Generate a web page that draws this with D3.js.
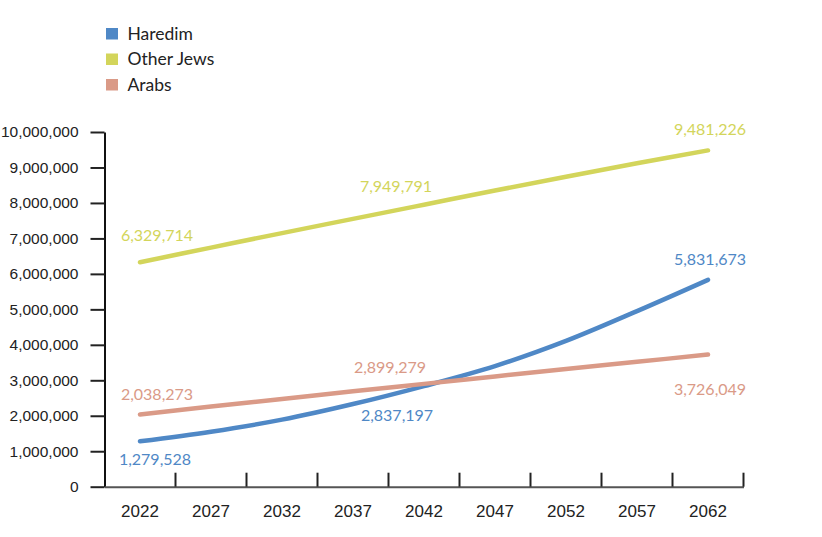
<!DOCTYPE html>
<html>
<head>
<meta charset="utf-8">
<script src="https://cdn.jsdelivr.net/npm/d3@7"></script>
<style>
  body { margin: 0; background: #fff; }
  svg { font-family: Lato, "Noto Sans", sans-serif; }
</style>
</head>
<body>
<div id="chart"></div>
<script>
// data
const years = [2022, 2027, 2032, 2037, 2042, 2047, 2052, 2057, 2062];
const haredim   = [1279528, 1550000, 1890000, 2330000, 2837197, 3400000, 4110000, 4950000, 5831673];
const otherJews = [6329714, 6740000, 7150000, 7550000, 7949791, 8350000, 8740000, 9120000, 9481226];
const arabs     = [2038273, 2260000, 2470000, 2690000, 2899279, 3110000, 3320000, 3520000, 3726049];
const seriesNames = ["Haredim", "Other Jews", "Arabs"];
const yTicks = [0, 1000000, 2000000, 3000000, 4000000, 5000000, 6000000, 7000000, 8000000, 9000000, 10000000];
const labelYears = [2022, 2042, 2062];

const colors = ["#4f88c6", "#d3d55b", "#da9a87"];
// where each value label sits relative to its point: [dx, dy] per series per labelled year
const labelOffsets = [
  [[15, 20], [-27, 31], [2, -19]],
  [[17, -25], [-28, -17], [2, -19]],
  [[17, -18], [-34, -15], [2, 36]]
];

const width = 822, height = 537;
const margin = { left: 104.5, right: 78.5, top: 132, bottom: 50.3 };

const svg = d3.select("#chart").append("svg")
  .attr("width", width)
  .attr("height", height);

const x = d3.scaleBand()
  .domain(years)
  .range([margin.left, width - margin.right]);

const y = d3.scaleLinear()
  .domain([0, 10000000])
  .range([height - margin.bottom, margin.top]);

const cx = d => x(d) + x.bandwidth() / 2;

// y axis
const yAxis = svg.append("g")
  .attr("transform", `translate(${margin.left},0)`)
  .call(d3.axisLeft(y).tickValues(yTicks).tickSize(14).tickSizeOuter(0).tickPadding(12)
    .tickFormat(d3.format(",")));
yAxis.select(".domain").attr("stroke", "#111").attr("stroke-width", 2);
yAxis.selectAll(".tick line").attr("stroke", "#222").attr("stroke-width", 2);
yAxis.selectAll(".tick text").attr("fill", "#222").style("font-size", "15.5px");

// x axis
const xAxis = svg.append("g")
  .attr("transform", `translate(0,${y(0)})`)
  .call(d3.axisBottom(x).tickSize(0).tickSizeOuter(0).tickPadding(18));
xAxis.select(".domain").attr("stroke", "#555").attr("stroke-width", 2);
xAxis.selectAll(".tick text").attr("fill", "#222").style("font-size", "17px");
xAxis.selectAll(".bound")
  .data(years)
  .enter().append("line")
  .attr("class", "bound")
  .attr("x1", d => x(d) + x.bandwidth())
  .attr("x2", d => x(d) + x.bandwidth())
  .attr("y1", 0)
  .attr("y2", -14)
  .attr("stroke", "#222")
  .attr("stroke-width", 2);

// lines
const allSeries = [haredim, otherJews, arabs];
const line = d3.line()
  .x((d, i) => cx(years[i]))
  .y(d => y(d))
  .curve(d3.curveCatmullRom.alpha(0.5));

svg.selectAll(".series")
  .data(allSeries)
  .enter().append("path")
  .attr("class", "series")
  .attr("d", d => line(d))
  .attr("fill", "none")
  .attr("stroke", (d, i) => colors[i])
  .attr("stroke-width", 4.5)
  .attr("stroke-linecap", "round");

// value labels
allSeries.forEach((vals, si) => {
  labelYears.forEach((yr, li) => {
    const idx = years.indexOf(yr);
    const off = labelOffsets[si][li];
    svg.append("text")
      .attr("x", cx(yr) + off[0])
      .attr("y", y(vals[idx]) + off[1])
      .attr("text-anchor", "middle")
      .attr("dominant-baseline", "middle")
      .attr("fill", colors[si])
      .style("font-size", "16px")
      .text(d3.format(",")(vals[idx]));
  });
});

// legend
const legend = svg.append("g").attr("transform", "translate(106,28)");
seriesNames.forEach((name, i) => {
  const g = legend.append("g").attr("transform", `translate(0,${i * 25.5})`);
  g.append("rect").attr("width", 12).attr("height", 11.5).attr("fill", colors[i]);
  g.append("text")
    .attr("x", 21.5)
    .attr("y", 11.5)
    .attr("fill", "#222")
    .style("font-size", "17.5px")
    .text(name);
});
</script>
</body>
</html>
